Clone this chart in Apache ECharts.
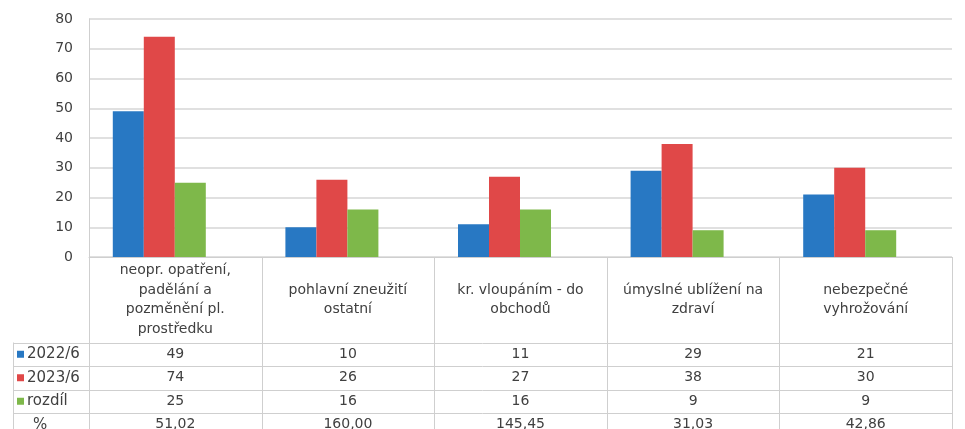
<!DOCTYPE html>
<html><head><meta charset="utf-8">
<script src="https://cdn.jsdelivr.net/npm/echarts/dist/echarts.min.js"></script>
<style>html,body{margin:0;padding:0;background:#fff}#c{width:965px;height:429px}</style>
</head><body><div id="c"></div>
<script>
// ---- data ----
const categories = [
  'neopr. opatření,\npadělání a\npozměnění pl.\nprostředku',
  'pohlavní zneužití\nostatní',
  'kr. vloupáním - do\nobchodů',
  'úmyslné ublížení na\nzdraví',
  'nebezpečné\nvyhrožování'
];
const seriesNames = ['2022/6', '2023/6', 'rozdíl'];
const values2022 = [49, 10, 11, 29, 21];
const values2023 = [74, 26, 27, 38, 30];
const valuesDiff = [25, 16, 16, 9, 9];
const percentName = '%';
const percentValues = ['51,02', '160,00', '145,45', '31,03', '42,86'];
const yMin = 0, yMax = 80, yStep = 10;

// ---- style ----
const colors = ['#2878c3', '#e04848', '#7eb84a'];
const textColor = '#404040';
const lineColor = '#cfcfcf';
const font = 'DejaVu Sans';

const chart = echarts.init(document.getElementById('c'));
const seriesData = [values2022, values2023, valuesDiff];

chart.setOption({
  animation: false,
  grid: [
    { left: 89, right: 13, top: 19, height: 238 },
    { left: 73, right: 29, top: 19, height: 238 }
  ],
  xAxis: [
    { type: 'category', gridIndex: 0, data: categories,
      axisLine: { show: true, lineStyle: { color: lineColor } },
      axisTick: { show: false },
      axisLabel: { interval: 0, margin: 43, verticalAlign: 'middle', lineHeight: 19.5,
        fontSize: 14, color: textColor, fontFamily: font, align: 'center' } },
    { type: 'category', gridIndex: 1, data: categories, show: false }
  ],
  yAxis: [
    { type: 'value', gridIndex: 0, min: yMin, max: yMax, interval: yStep,
      axisLine: { show: true, lineStyle: { color: lineColor } },
      axisTick: { show: false },
      splitLine: { lineStyle: { color: '#d6d6d6', width: 1.5 } },
      axisLabel: { margin: 16, fontSize: 14, color: textColor, fontFamily: font } },
    { type: 'value', gridIndex: 1, min: yMin, max: yMax, show: false }
  ],
  series: seriesNames.map((n, k) => ({
    name: n, type: 'bar', xAxisIndex: 1, yAxisIndex: 1,
    data: seriesData[k], barWidth: 31, barGap: 0,
    itemStyle: { color: colors[k] }
  }))
});

// ---- data table below the axis ----
const c0 = chart.convertToPixel({ xAxisIndex: 0 }, 0);
const band = chart.convertToPixel({ xAxisIndex: 0 }, 1) - c0;
const axisY = chart.convertToPixel({ yAxisIndex: 0 }, 0);
const leftEdge = 13;
const tableTop = 342.5;
const rowH = 23.5;
const bottom = 440;
const rightEdge = c0 + band * (categories.length - 0.5);
const els = [];
const crisp = v => Math.round(v) + 0.5;

for (let i = 0; i <= categories.length; i++) {
  const x = crisp(c0 - band / 2 + i * band);
  els.push({ type: 'line', shape: { x1: x, y1: axisY, x2: x, y2: bottom },
    style: { stroke: lineColor, lineWidth: 1 } });
}
els.push({ type: 'line', shape: { x1: crisp(leftEdge), y1: tableTop, x2: crisp(leftEdge), y2: bottom },
  style: { stroke: lineColor, lineWidth: 1 } });

const rows = [
  { name: seriesNames[0], color: colors[0], vals: values2022.map(String) },
  { name: seriesNames[1], color: colors[1], vals: values2023.map(String) },
  { name: seriesNames[2], color: colors[2], vals: valuesDiff.map(String) },
  { name: percentName, color: null, vals: percentValues }
];
for (let r = 0; r <= rows.length; r++) {
  const y = crisp(tableTop + r * rowH);
  els.push({ type: 'line', shape: { x1: leftEdge, y1: y, x2: rightEdge, y2: y },
    style: { stroke: lineColor, lineWidth: 1 } });
}
rows.forEach((row, r) => {
  const cy = tableTop + r * rowH + rowH / 2;
  if (row.color) {
    els.push({ type: 'rect', shape: { x: 17, y: cy - 3.5, width: 7, height: 7 },
      style: { fill: row.color } });
  }
  els.push({ type: 'text', x: row.color ? 27 : 33, y: cy,
    style: { text: row.name, fill: textColor, font: '15px "' + font + '"',
      textAlign: 'left', textVerticalAlign: 'middle' } });
  row.vals.forEach((v, i) => {
    els.push({ type: 'text', x: c0 + i * band, y: cy,
      style: { text: v, fill: textColor, font: '14px "' + font + '"',
        textAlign: 'center', textVerticalAlign: 'middle' } });
  });
});
chart.setOption({ graphic: { elements: els } });
</script>
</body></html>
